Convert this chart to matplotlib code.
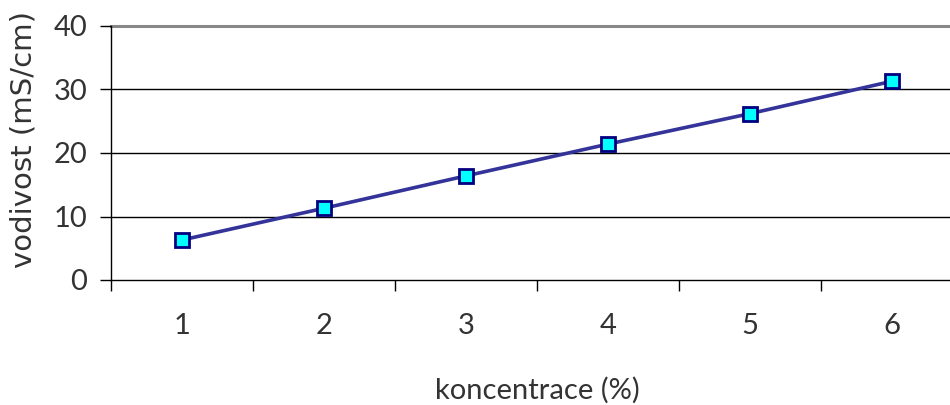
import matplotlib
matplotlib.use("Agg")
import matplotlib.pyplot as plt

koncentrace = [1, 2, 3, 4, 5, 6]
vodivost = [6.3, 11.3, 16.4, 21.4, 26.2, 31.3]
y_ticks = [0, 10, 20, 30, 40]

plt.rcParams['font.family'] = ['Lato', 'DejaVu Sans']

fig = plt.figure(figsize=(9.5, 4.05), dpi=100)
W, H = 950, 405
left, right, top, bottom = 111, 963, 26, 280
ax = fig.add_axes([left / W, 1 - bottom / H, (right - left) / W, (bottom - top) / H])

ax.plot(koncentrace, vodivost, color='#333399', lw=2.6, marker='s', markersize=10,
        markerfacecolor='#00FFFF', markeredgecolor='#000080', markeredgewidth=2, zorder=3, clip_on=False)

ax.set_xlim(0.5, 6.5)
ax.set_ylim(0, 40)
ax.set_yticks(y_ticks)
ax.set_yticklabels([str(v) for v in y_ticks])
for v in y_ticks[1:-1]:
    ax.axhline(v, color='black', lw=1.0, zorder=1)
ax.axhline(40, color='#888888', lw=2.2, zorder=1, clip_on=False)

ax.set_xticks(koncentrace)
ax.set_xticklabels([str(v) for v in koncentrace])
ax.set_xticks([k + 0.5 for k in [0] + koncentrace], minor=True)
ax.tick_params(axis='x', which='major', length=0, pad=24, labelsize=21, colors='#333333')
ax.tick_params(axis='x', which='minor', length=8, width=1, direction='out', color='black')
ax.tick_params(axis='y', length=8, width=1, direction='out', labelsize=21, pad=9, colors='black', labelcolor='#333333')

for s in ['top', 'right']:
    ax.spines[s].set_visible(False)
ax.spines['left'].set_linewidth(1.0)
ax.spines['bottom'].set_linewidth(1.0)

ax.set_xlabel('koncentrace (%)', fontsize=21, color='#333333', labelpad=27)
fig.text(24 / W, 1 - 268 / H, 'vodivost (mS/cm)', rotation=90, ha='center', va='bottom',
         fontsize=21, color='#333333', family=['DejaVu Sans'])

fig.savefig('out.png', dpi=100)
